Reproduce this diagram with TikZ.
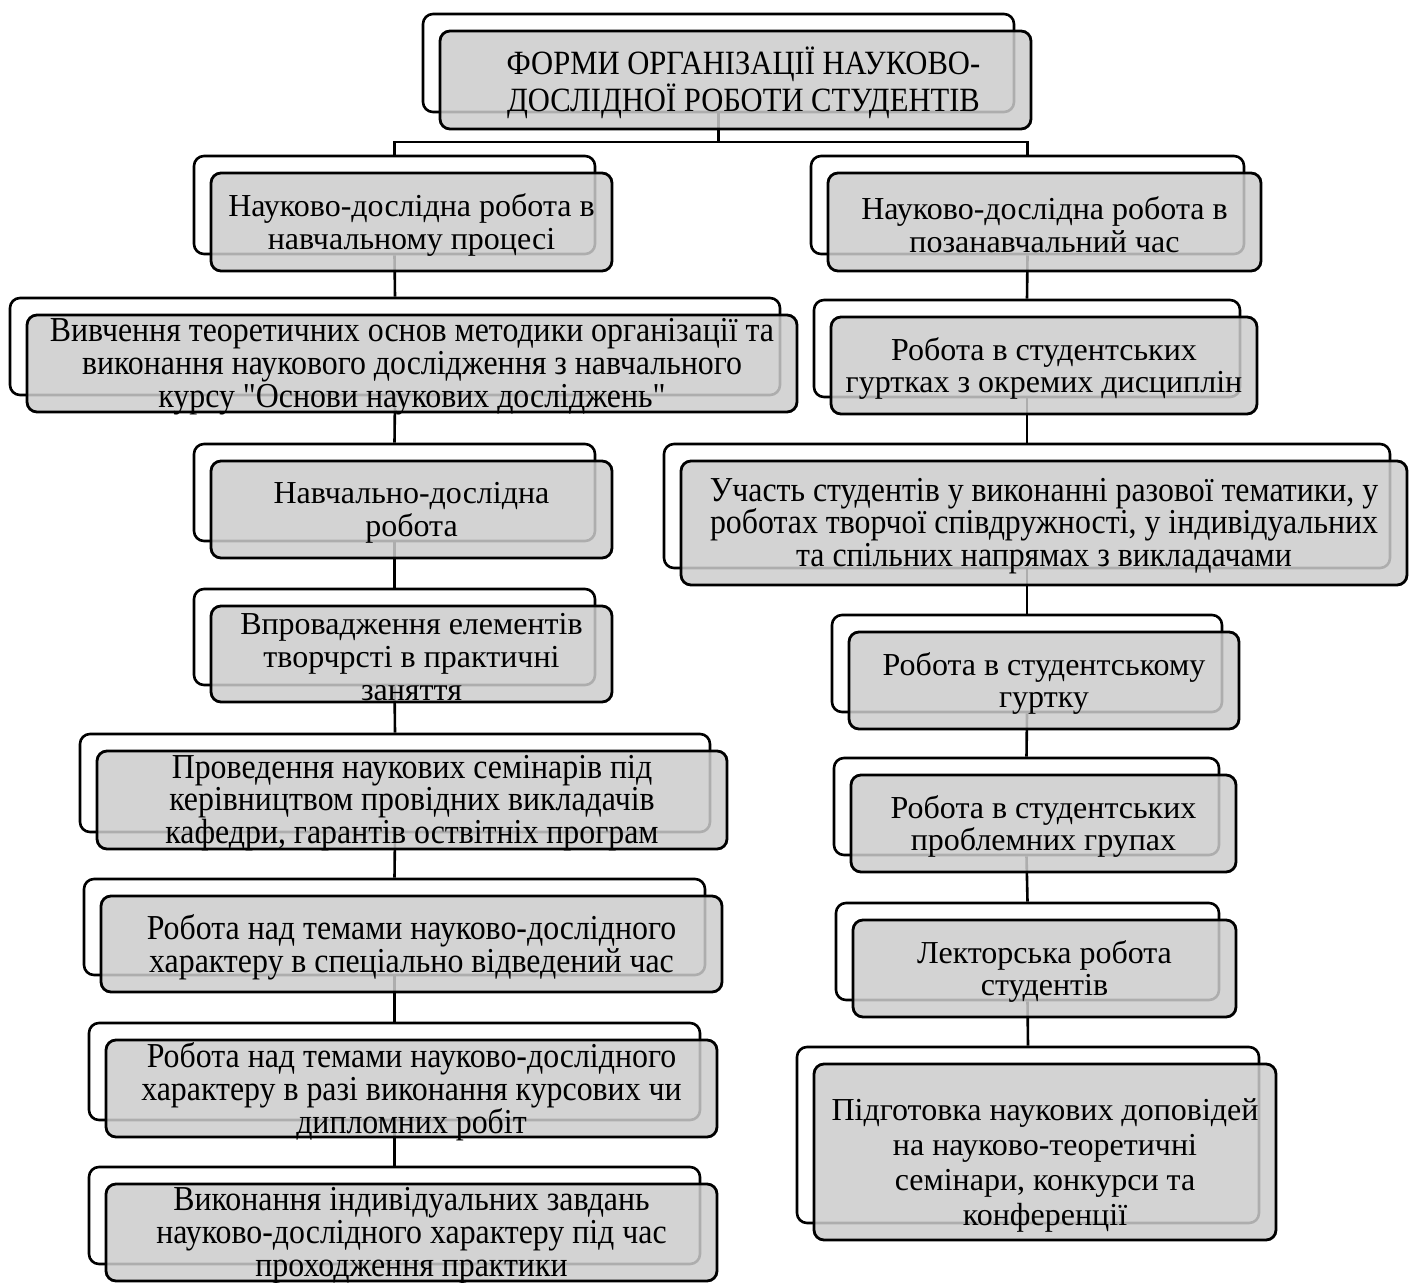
\documentclass[tikz,border=0pt]{standalone}
\usepackage{fontspec}
\setmainfont{Liberation Serif}
\newfontfamily\rmplain{Liberation Serif}
\newfontfamily\rmcond[FakeStretch=0.91]{Liberation Serif}
\newfontfamily\rmcondb[FakeStretch=0.9]{Liberation Serif}
\pgfdeclarelayer{background}
\pgfsetlayers{background,main}
\tikzset{
  backbox/.style={draw=black, line width=1.3pt, rounded corners=5pt, fill=white, inner sep=0pt},
  frontbox/.style={draw=black, line width=1.4pt, rounded corners=5pt, fill=black!20, fill opacity=0.85, inner sep=0pt},
  boxtext/.style={align=center, inner sep=0pt, yshift=-1.5pt, font=\rmplain\fontsize{16}{16.4}\selectfont, text=black},
  condtext/.style={font=\rmcond\fontsize{17.5}{16.4}\selectfont},
  conn/.style={draw=black, line width=1.3pt}
}
% [text options], name, x1, y1, x2, y2 (back box, px), text
\newcommand\pairbox[7][]{%
  \node[backbox, minimum width={(#5-#3)*0.5pt}, minimum height={(#6-#4)*0.5pt}]
     (#2b) at ({(#3+#5)/2},{(#4+#6)/2}) {};
  \node[frontbox, minimum width={(#5-#3)*0.5pt}, minimum height={(#6-#4)*0.5pt}]
     (#2f) at ({(#3+#5)/2+17},{(#4+#6)/2+17}) {};
  \node[boxtext, #1] (#2t) at (#2f.center) {#7};
}
\begin{document}
\begin{tikzpicture}[x=0.5pt, y=-0.5pt]
\useasboundingbox (0,0) rectangle (1412,1283);
\pairbox[xshift=4pt, font=\rmcondb\fontsize{17}{16.4}\selectfont]{top}{423}{14}{1014}{112}{ФОРМИ ОРГАНІЗАЦІЇ НАУКОВО-\\ДОСЛІДНОЇ РОБОТИ СТУДЕНТІВ}
\pairbox{lb}{194}{156}{595}{254}{Науково-дослідна робота в\\навчальному процесі}
\pairbox{ra}{811}{156}{1244}{254}{Науково-дослідна робота в\\позанавчальний час}
\pairbox[condtext]{lc}{10}{298}{780}{395}{Вивчення теоретичних основ методики організації та\\виконання наукового дослідження з навчального\\курсу "Основи наукових досліджень"}
\pairbox{rb}{814}{300}{1240}{397}{Робота в студентських\\гуртках з окремих дисциплін}
\pairbox{ld}{194}{444}{595}{541}{Навчально-дослідна\\робота}
\pairbox[condtext]{rc}{664}{444}{1390}{568}{Участь студентів у виконанні разової тематики, у\\роботах творчої співдружності, у індивідуальних\\та спільних напрямах з викладачами}
\pairbox{le}{194}{589}{595}{685}{Впровадження елементів\\творчрсті в практичні\\заняття}
\pairbox{rd}{832}{615}{1222}{712}{Робота в студентському\\гуртку}
\pairbox[condtext]{lf}{80}{734}{710}{832}{Проведення наукових семінарів під\\керівництвом провідних викладачів\\кафедри, гарантів оствітніх програм}
\pairbox{re}{834}{758}{1219}{855}{Робота в студентських\\проблемних групах}
\pairbox[condtext]{lg}{84}{879}{705}{975}{Робота над темами науково-дослідного\\характеру в спеціально відведений час}
\pairbox{rf}{836}{903}{1219}{1000}{Лекторська робота\\студентів}
\pairbox[condtext]{lh}{89}{1023}{700}{1120}{Робота над темами науково-дослідного\\характеру в разі виконання курсових чи\\дипломних робіт}
\pairbox[yshift=-5pt, font=\rmplain\fontsize{16}{17.5}\selectfont]{rg}{797}{1047}{1259}{1223}{Підготовка наукових доповідей\\на науково-теоретичні\\семінари, конкурси та\\конференції}
\pairbox[condtext]{li}{89}{1167}{700}{1264}{Виконання індивідуальних завдань\\науково-дослідного характеру під час\\проходження практики}
\path (0,142) coordinate (hline);
\coordinate (j) at (topb.south |- hline);
\begin{pgfonlayer}{background}
\draw[conn] (topb.south) -- (j);
\draw[conn] (lbb.north) |- (j) -| (rab.north);
\draw[conn] (lbb.south) -- (lcb.north);
\draw[conn] (lcb.south) -- (ldb.north);
\draw[conn] (ldb.south) -- (leb.north);
\draw[conn] (leb.south) -- (lfb.north);
\draw[conn] (lfb.south) -- (lgb.north);
\draw[conn] (lgb.south) -- (lhb.north);
\draw[conn] (lhb.south) -- (lib.north);
\draw[conn] (rab.south) -- (rbb.north);
\draw[conn] (rbb.south) -- (rcb.north);
\draw[conn] (rcb.south) -- (rdb.north);
\draw[conn] (rdb.south) -- (reb.north);
\draw[conn] (reb.south) -- (rfb.north);
\draw[conn] (rfb.south) -- (rgb.north);
\end{pgfonlayer}
\end{tikzpicture}
\end{document}
